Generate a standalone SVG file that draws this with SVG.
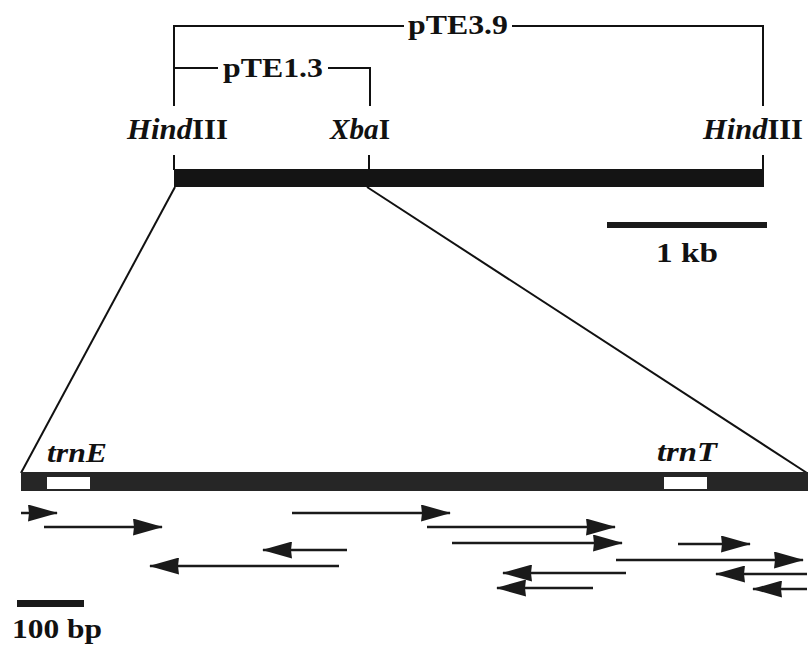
<svg xmlns="http://www.w3.org/2000/svg" width="811" height="648" viewBox="0 0 811 648">
<style>
  .t{font-family:"Liberation Serif","Times New Roman",serif;font-weight:bold;fill:#111}
  .i{font-style:italic}
  .ln{stroke:#111;stroke-width:2;fill:none}
  .ar{stroke:#1a1a1a;stroke-width:2.5;fill:none;marker-end:url(#ah)}
</style>
<defs>
  <marker id="ah" viewBox="0 0 30 17" refX="29" refY="8.5" markerWidth="30" markerHeight="17" markerUnits="userSpaceOnUse" orient="auto">
    <path d="M0,0 L30,8.5 L0,17 L1,8.5 Z" fill="#1a1a1a"/>
  </marker>
</defs>
<rect width="811" height="648" fill="#fff"/>

<g id="brackets">
  <path class="ln" d="M174,106 V26 H404 M512,26 H763 V106"/>
  <path class="ln" d="M174,68 H218 M328,68 H370 V106"/>
  <text class="t" x="408" y="34" font-size="28" textLength="100" lengthAdjust="spacingAndGlyphs">pTE3.9</text>
  <text class="t" x="223" y="77" font-size="28" textLength="100" lengthAdjust="spacingAndGlyphs">pTE1.3</text>
</g>

<g id="site-hind-left">
  <text class="t" x="127" y="139" font-size="30" textLength="101" lengthAdjust="spacingAndGlyphs"><tspan class="i">Hind</tspan>III</text>
  <line class="ln" x1="174" y1="155" x2="174" y2="170"/>
</g>
<g id="site-xba">
  <text class="t" x="330" y="139" font-size="30" textLength="60" lengthAdjust="spacingAndGlyphs"><tspan class="i">Xba</tspan>I</text>
  <line class="ln" x1="369" y1="155" x2="369" y2="170"/>
</g>
<g id="site-hind-right">
  <text class="t" x="703" y="139" font-size="30" textLength="100" lengthAdjust="spacingAndGlyphs"><tspan class="i">Hind</tspan>III</text>
  <line class="ln" x1="763" y1="155" x2="763" y2="170"/>
</g>

<g id="map-bar">
  <rect x="174" y="169" width="590" height="18" fill="#141414"/>
</g>

<g id="scale-1kb">
  <rect x="607" y="222" width="160" height="6" fill="#1a1a1a"/>
  <text class="t" x="687" y="262" font-size="28" text-anchor="middle" textLength="62" lengthAdjust="spacingAndGlyphs">1 kb</text>
</g>

<g id="expansion">
  <line class="ln" x1="175" y1="187" x2="21" y2="473"/>
  <line class="ln" x1="367" y1="187" x2="807" y2="473"/>
</g>

<g id="detail-bar">
  <rect x="21" y="472" width="787" height="19" fill="#262626"/>
  <rect x="47" y="477" width="43" height="12" fill="#fff"/>
  <rect x="664" y="477" width="43" height="12" fill="#fff"/>
  <text class="t i" x="47" y="462" font-size="27" textLength="60" lengthAdjust="spacingAndGlyphs">trnE</text>
  <text class="t i" x="657" y="461" font-size="27" textLength="60" lengthAdjust="spacingAndGlyphs">trnT</text>
</g>

<g id="connectors">
  <line class="ar" x1="21" y1="513" x2="57" y2="513"/>
  <line class="ar" x1="44" y1="527" x2="162" y2="527"/>
  <line class="ar" x1="292" y1="513" x2="450" y2="513"/>
  <line class="ar" x1="347" y1="550" x2="263" y2="550"/>
  <line class="ar" x1="339" y1="566" x2="150" y2="566"/>
  <line class="ar" x1="427" y1="527" x2="615" y2="527"/>
  <line class="ar" x1="452" y1="543" x2="622" y2="543"/>
  <line class="ar" x1="678" y1="544" x2="750" y2="544"/>
  <line class="ar" x1="616" y1="560" x2="803" y2="560"/>
  <line class="ar" x1="626" y1="573" x2="503" y2="573"/>
  <line class="ar" x1="593" y1="588" x2="497" y2="588"/>
  <line class="ar" x1="807" y1="574" x2="716" y2="574"/>
  <line class="ar" x1="807" y1="589" x2="753" y2="589"/>
</g>

<g id="scale-100bp">
  <rect x="17" y="600" width="67" height="7" fill="#1a1a1a"/>
  <text class="t" x="12" y="638" font-size="28" textLength="90" lengthAdjust="spacingAndGlyphs">100 bp</text>
</g>
</svg>
